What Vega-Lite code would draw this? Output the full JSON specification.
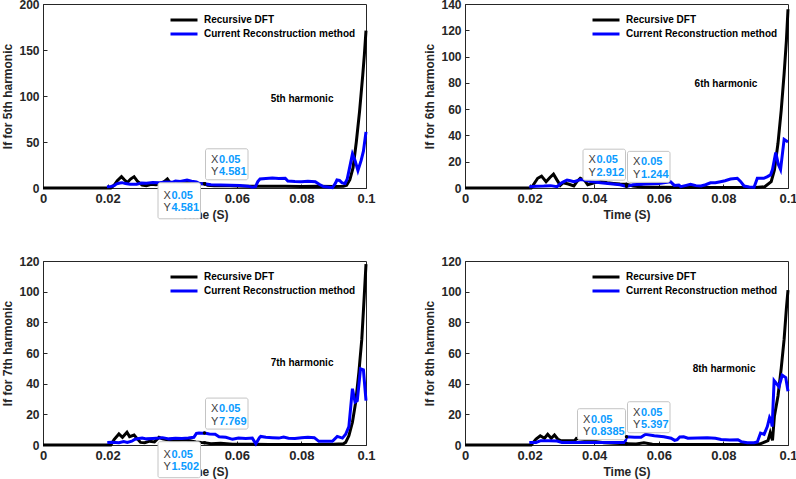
{
  "$schema": "https://vega.github.io/schema/vega-lite/v6.json",
  "padding": {"left": 1, "top": -3, "right": 0, "bottom": 0},
  "background": "#ffffff",
  "datasets": {
    "rdft_h5": [
      {"time": 0, "current": 0}, {"time": 0.021, "current": 0}, {"time": 0.022, "current": 3}, {"time": 0.023, "current": 8},
      {"time": 0.0243, "current": 12.3}, {"time": 0.0252, "current": 9}, {"time": 0.0261, "current": 6}, {"time": 0.0272, "current": 10},
      {"time": 0.0282, "current": 12.3}, {"time": 0.0293, "current": 7}, {"time": 0.0307, "current": 3.3}, {"time": 0.032, "current": 2.5},
      {"time": 0.0335, "current": 4}, {"time": 0.035, "current": 3.5}, {"time": 0.0365, "current": 4.5}, {"time": 0.0375, "current": 7},
      {"time": 0.0385, "current": 9.8}, {"time": 0.0395, "current": 5}, {"time": 0.04, "current": 3}, {"time": 0.041, "current": 4},
      {"time": 0.042, "current": 5}, {"time": 0.0435, "current": 5.5}, {"time": 0.0446, "current": 7}, {"time": 0.0455, "current": 5},
      {"time": 0.047, "current": 4.5}, {"time": 0.0485, "current": 4.7}, {"time": 0.05, "current": 4.581}, {"time": 0.051, "current": 3},
      {"time": 0.053, "current": 2.5}, {"time": 0.056, "current": 2.8}, {"time": 0.06, "current": 2.2}, {"time": 0.065, "current": 2},
      {"time": 0.07, "current": 1.8}, {"time": 0.075, "current": 2}, {"time": 0.08, "current": 1.6}, {"time": 0.085, "current": 1.8},
      {"time": 0.09, "current": 1.5}, {"time": 0.093, "current": 2}, {"time": 0.094, "current": 3}, {"time": 0.095, "current": 9},
      {"time": 0.096, "current": 22}, {"time": 0.097, "current": 50}, {"time": 0.098, "current": 83}, {"time": 0.099, "current": 123},
      {"time": 0.0995, "current": 145}, {"time": 0.1, "current": 171}
    ],
    "crm_h5": [
      {"time": 0.0198, "current": 1.4}, {"time": 0.021, "current": 1.6}, {"time": 0.022, "current": 2.5}, {"time": 0.0228, "current": 4.5},
      {"time": 0.0238, "current": 5.5}, {"time": 0.0245, "current": 5.8}, {"time": 0.0255, "current": 4.8}, {"time": 0.027, "current": 4},
      {"time": 0.029, "current": 4.2}, {"time": 0.0305, "current": 5.5}, {"time": 0.032, "current": 5.2}, {"time": 0.034, "current": 6},
      {"time": 0.036, "current": 5.8}, {"time": 0.038, "current": 6.5}, {"time": 0.04, "current": 6.2}, {"time": 0.041, "current": 7.6},
      {"time": 0.0425, "current": 7}, {"time": 0.0446, "current": 8.7}, {"time": 0.046, "current": 7.5}, {"time": 0.0475, "current": 6.5},
      {"time": 0.0485, "current": 4.8}, {"time": 0.05, "current": 4.581}, {"time": 0.052, "current": 3.5}, {"time": 0.055, "current": 3.3},
      {"time": 0.058, "current": 3}, {"time": 0.061, "current": 2.6}, {"time": 0.0635, "current": 2}, {"time": 0.0648, "current": 0.8},
      {"time": 0.0658, "current": 1.5}, {"time": 0.0665, "current": 7}, {"time": 0.0672, "current": 9.8}, {"time": 0.069, "current": 10.2},
      {"time": 0.071, "current": 10.8}, {"time": 0.073, "current": 10.2}, {"time": 0.075, "current": 10.5}, {"time": 0.0758, "current": 7.5},
      {"time": 0.078, "current": 7}, {"time": 0.08, "current": 6.8}, {"time": 0.082, "current": 7.2}, {"time": 0.0843, "current": 6.8},
      {"time": 0.0855, "current": 4}, {"time": 0.0868, "current": 1.5}, {"time": 0.088, "current": 1.2}, {"time": 0.0896, "current": 0.3},
      {"time": 0.0905, "current": 5}, {"time": 0.091, "current": 8.7}, {"time": 0.0918, "current": 8.2}, {"time": 0.0926, "current": 5.5},
      {"time": 0.0935, "current": 4.8}, {"time": 0.0942, "current": 10}, {"time": 0.0948, "current": 20}, {"time": 0.0958, "current": 37},
      {"time": 0.0966, "current": 30}, {"time": 0.0975, "current": 19}, {"time": 0.0985, "current": 30}, {"time": 0.0992, "current": 40},
      {"time": 0.1, "current": 61}
    ],
    "rdft_h6": [
      {"time": 0, "current": 0}, {"time": 0.0205, "current": 0}, {"time": 0.0225, "current": 7.4}, {"time": 0.0237, "current": 9},
      {"time": 0.0251, "current": 4.8}, {"time": 0.0263, "current": 8}, {"time": 0.0274, "current": 10.5}, {"time": 0.0285, "current": 6},
      {"time": 0.0295, "current": 2}, {"time": 0.0304, "current": 4}, {"time": 0.032, "current": 3}, {"time": 0.0337, "current": 1.5},
      {"time": 0.0347, "current": 5}, {"time": 0.0357, "current": 7.4}, {"time": 0.037, "current": 6}, {"time": 0.038, "current": 2.5},
      {"time": 0.04, "current": 4}, {"time": 0.042, "current": 5}, {"time": 0.044, "current": 4}, {"time": 0.046, "current": 3.5},
      {"time": 0.048, "current": 3}, {"time": 0.05, "current": 2.912}, {"time": 0.052, "current": 1.5}, {"time": 0.055, "current": 0.8},
      {"time": 0.06, "current": 0.5}, {"time": 0.07, "current": 0.3}, {"time": 0.08, "current": 0.3}, {"time": 0.09, "current": 0.3},
      {"time": 0.0928, "current": 1}, {"time": 0.0948, "current": 4.8}, {"time": 0.0958, "current": 13.7}, {"time": 0.0969, "current": 34},
      {"time": 0.0979, "current": 59}, {"time": 0.0988, "current": 87}, {"time": 0.0995, "current": 112}, {"time": 0.1, "current": 136}
    ],
    "crm_h6": [
      {"time": 0.0199, "current": 1}, {"time": 0.022, "current": 1.3}, {"time": 0.0244, "current": 1.5}, {"time": 0.0265, "current": 1.8},
      {"time": 0.0285, "current": 1}, {"time": 0.0297, "current": 3.6}, {"time": 0.0306, "current": 4.8}, {"time": 0.0316, "current": 6},
      {"time": 0.0326, "current": 5.5}, {"time": 0.0337, "current": 4.8}, {"time": 0.0347, "current": 5.5}, {"time": 0.0357, "current": 6.5},
      {"time": 0.0369, "current": 6}, {"time": 0.039, "current": 5}, {"time": 0.042, "current": 4}, {"time": 0.045, "current": 3.2},
      {"time": 0.048, "current": 2.5}, {"time": 0.05, "current": 1.244}, {"time": 0.052, "current": 2.5}, {"time": 0.056, "current": 3},
      {"time": 0.06, "current": 3.5}, {"time": 0.0636, "current": 4.8}, {"time": 0.0648, "current": 2}, {"time": 0.0662, "current": 2.3},
      {"time": 0.0668, "current": 1}, {"time": 0.0685, "current": 2}, {"time": 0.0698, "current": 2.8}, {"time": 0.0715, "current": 1.8},
      {"time": 0.0731, "current": 1.5}, {"time": 0.0745, "current": 2.5}, {"time": 0.076, "current": 4}, {"time": 0.0775, "current": 4},
      {"time": 0.0791, "current": 4.8}, {"time": 0.0805, "current": 5.5}, {"time": 0.0822, "current": 6.8}, {"time": 0.0843, "current": 7.4},
      {"time": 0.0853, "current": 5}, {"time": 0.0864, "current": 1.5}, {"time": 0.088, "current": 0.8}, {"time": 0.0895, "current": 0.6},
      {"time": 0.0905, "current": 7.4}, {"time": 0.0915, "current": 7.4}, {"time": 0.0925, "current": 7.4}, {"time": 0.0935, "current": 8.5},
      {"time": 0.0946, "current": 10}, {"time": 0.0952, "current": 14}, {"time": 0.0962, "current": 27}, {"time": 0.097, "current": 18},
      {"time": 0.0977, "current": 14}, {"time": 0.0988, "current": 37}, {"time": 0.1, "current": 35}
    ],
    "rdft_h7": [
      {"time": 0, "current": 0}, {"time": 0.021, "current": 0}, {"time": 0.022, "current": 3.5}, {"time": 0.0235, "current": 7.2},
      {"time": 0.0246, "current": 5}, {"time": 0.026, "current": 8.3}, {"time": 0.0268, "current": 5.5}, {"time": 0.0282, "current": 6.5},
      {"time": 0.0292, "current": 4}, {"time": 0.0302, "current": 1.7}, {"time": 0.0315, "current": 1.5}, {"time": 0.033, "current": 2.5},
      {"time": 0.0345, "current": 2}, {"time": 0.0359, "current": 5}, {"time": 0.037, "current": 4}, {"time": 0.039, "current": 3.3},
      {"time": 0.0405, "current": 2.5}, {"time": 0.042, "current": 3}, {"time": 0.044, "current": 3.2}, {"time": 0.0455, "current": 2.8},
      {"time": 0.0473, "current": 2}, {"time": 0.049, "current": 1.6}, {"time": 0.05, "current": 1.502}, {"time": 0.052, "current": 0.8},
      {"time": 0.055, "current": 1.2}, {"time": 0.0587, "current": 0.5}, {"time": 0.065, "current": 0.5}, {"time": 0.07, "current": 0.4},
      {"time": 0.08, "current": 0.4}, {"time": 0.09, "current": 0.5}, {"time": 0.093, "current": 0.8}, {"time": 0.0937, "current": 1.7},
      {"time": 0.0947, "current": 6}, {"time": 0.0958, "current": 14.8}, {"time": 0.0968, "current": 27.8}, {"time": 0.0978, "current": 47.5},
      {"time": 0.0987, "current": 69}, {"time": 0.0994, "current": 95}, {"time": 0.1, "current": 118}
    ],
    "crm_h7": [
      {"time": 0.0199, "current": 1.7}, {"time": 0.0215, "current": 1.8}, {"time": 0.0235, "current": 1.5}, {"time": 0.025, "current": 2.2},
      {"time": 0.0261, "current": 1.7}, {"time": 0.0275, "current": 2.5}, {"time": 0.0285, "current": 3.8}, {"time": 0.0297, "current": 4.3},
      {"time": 0.0307, "current": 4.5}, {"time": 0.032, "current": 4}, {"time": 0.034, "current": 4.3}, {"time": 0.036, "current": 4.6},
      {"time": 0.037, "current": 4.8}, {"time": 0.039, "current": 4}, {"time": 0.041, "current": 4.4}, {"time": 0.043, "current": 4.2},
      {"time": 0.045, "current": 4.5}, {"time": 0.0467, "current": 5}, {"time": 0.0475, "current": 7.6}, {"time": 0.0483, "current": 7.8},
      {"time": 0.0493, "current": 7.7}, {"time": 0.05, "current": 7.769}, {"time": 0.0515, "current": 7.2}, {"time": 0.0533, "current": 7},
      {"time": 0.0545, "current": 5.4}, {"time": 0.0566, "current": 5}, {"time": 0.0587, "current": 3.7}, {"time": 0.0605, "current": 4.5},
      {"time": 0.0628, "current": 4.2}, {"time": 0.0648, "current": 4.5}, {"time": 0.0659, "current": 0.8}, {"time": 0.067, "current": 4.8},
      {"time": 0.0674, "current": 5.6}, {"time": 0.069, "current": 5}, {"time": 0.071, "current": 4.8}, {"time": 0.073, "current": 4.5},
      {"time": 0.0745, "current": 5.2}, {"time": 0.076, "current": 4.4}, {"time": 0.078, "current": 4.2}, {"time": 0.08, "current": 4.8},
      {"time": 0.082, "current": 5}, {"time": 0.084, "current": 4.8}, {"time": 0.0854, "current": 2.4}, {"time": 0.0875, "current": 2.4},
      {"time": 0.0896, "current": 2.4}, {"time": 0.0911, "current": 5.6}, {"time": 0.0927, "current": 4.5}, {"time": 0.0937, "current": 7},
      {"time": 0.0947, "current": 12}, {"time": 0.0958, "current": 36.7}, {"time": 0.0966, "current": 28}, {"time": 0.0973, "current": 29},
      {"time": 0.0983, "current": 49.7}, {"time": 0.0992, "current": 49}, {"time": 0.1, "current": 29}
    ],
    "rdft_h8": [
      {"time": 0, "current": 0}, {"time": 0.0205, "current": 0}, {"time": 0.022, "current": 3.9}, {"time": 0.0233, "current": 6},
      {"time": 0.0246, "current": 4.4}, {"time": 0.0256, "current": 7}, {"time": 0.0267, "current": 4.4}, {"time": 0.0277, "current": 6.5},
      {"time": 0.0287, "current": 3.9}, {"time": 0.0297, "current": 2.8}, {"time": 0.032, "current": 2.8}, {"time": 0.034, "current": 2.8},
      {"time": 0.0345, "current": 4.3}, {"time": 0.037, "current": 3.5}, {"time": 0.04, "current": 2.5}, {"time": 0.043, "current": 1.5},
      {"time": 0.046, "current": 1.2}, {"time": 0.048, "current": 1}, {"time": 0.05, "current": 0.8385}, {"time": 0.053, "current": 0.7},
      {"time": 0.0554, "current": 1.5}, {"time": 0.058, "current": 0.5}, {"time": 0.065, "current": 0.3}, {"time": 0.075, "current": 0.3},
      {"time": 0.085, "current": 0.3}, {"time": 0.0912, "current": 0.6}, {"time": 0.0938, "current": 2.8}, {"time": 0.0945, "current": 8},
      {"time": 0.0952, "current": 3}, {"time": 0.0958, "current": 19}, {"time": 0.0969, "current": 32}, {"time": 0.0979, "current": 50},
      {"time": 0.0988, "current": 69}, {"time": 0.0995, "current": 89}, {"time": 0.1, "current": 101}
    ],
    "crm_h8": [
      {"time": 0.0199, "current": 1.7}, {"time": 0.022, "current": 1.7}, {"time": 0.0235, "current": 2.8}, {"time": 0.026, "current": 2.8},
      {"time": 0.0285, "current": 2.6}, {"time": 0.03, "current": 1.7}, {"time": 0.033, "current": 1.7}, {"time": 0.036, "current": 1.7},
      {"time": 0.04, "current": 1.7}, {"time": 0.045, "current": 1.7}, {"time": 0.0495, "current": 1.7}, {"time": 0.05, "current": 5.397},
      {"time": 0.0525, "current": 5}, {"time": 0.0545, "current": 5}, {"time": 0.0559, "current": 7}, {"time": 0.0586, "current": 6},
      {"time": 0.0616, "current": 5.4}, {"time": 0.0638, "current": 4.4}, {"time": 0.0649, "current": 3}, {"time": 0.0657, "current": 3.5},
      {"time": 0.0665, "current": 5.2}, {"time": 0.0677, "current": 5.4}, {"time": 0.069, "current": 4.4}, {"time": 0.072, "current": 4.6},
      {"time": 0.075, "current": 4.8}, {"time": 0.0775, "current": 4.4}, {"time": 0.0793, "current": 3.6}, {"time": 0.082, "current": 3.2},
      {"time": 0.0845, "current": 3.4}, {"time": 0.0855, "current": 2.2}, {"time": 0.0874, "current": 1.5}, {"time": 0.0895, "current": 1.5},
      {"time": 0.0905, "current": 2}, {"time": 0.0915, "current": 7.8}, {"time": 0.0926, "current": 7}, {"time": 0.0936, "current": 12},
      {"time": 0.0943, "current": 18}, {"time": 0.0948, "current": 16}, {"time": 0.0951, "current": 12}, {"time": 0.0957, "current": 42},
      {"time": 0.0972, "current": 38}, {"time": 0.0982, "current": 45.5}, {"time": 0.0993, "current": 44}, {"time": 0.1, "current": 35}
    ],
    "notes": [
      {"harmonic": 5, "time": 0.0802, "current": 96.7, "label": "5th harmonic"},
      {"harmonic": 6, "time": 0.0808, "current": 79, "label": "6th harmonic"},
      {"harmonic": 7, "time": 0.0802, "current": 53.8, "label": "7th harmonic"},
      {"harmonic": 8, "time": 0.0802, "current": 49.8, "label": "8th harmonic"}
    ],
    "tips": [
      {"harmonic": 5, "time": 0.05, "current": 4.581, "orient": "ur"},
      {"harmonic": 5, "time": 0.05, "current": 4.581, "orient": "bl"},
      {"harmonic": 6, "time": 0.05, "current": 2.912, "orient": "ul"},
      {"harmonic": 6, "time": 0.05, "current": 1.244, "orient": "ur"},
      {"harmonic": 7, "time": 0.05, "current": 7.769, "orient": "ur"},
      {"harmonic": 7, "time": 0.05, "current": 1.502, "orient": "bl"},
      {"harmonic": 8, "time": 0.05, "current": 0.8385, "orient": "ul"},
      {"harmonic": 8, "time": 0.05, "current": 5.397, "orient": "ur"}
    ]
  },
  "columns": 2,
  "bounds": "flush",
  "spacing": {"row": 73, "column": 99},
  "resolve": {"scale": {"color": "independent"}, "legend": {"color": "independent"}},
  "concat": [
    {
      "width": 323, "height": 184,
      "layer": [
        {"data": {"name": "rdft_h5"}, "mark": {"type": "line", "strokeWidth": 3},
         "encoding": {
           "x": {"field": "time", "type": "quantitative", "scale": {"domain": [0, 0.1]}, "axis": {"title": "Time (S)", "values": [0, 0.02, 0.04, 0.06, 0.08, 0.1], "tickCount": 20, "format": ".2~f"}},
           "y": {"field": "current", "type": "quantitative", "scale": {"domain": [0, 200]}, "axis": {"title": "If for 5th harmonic", "values": [0, 50, 100, 150, 200], "tickCount": 20}},
           "color": {"datum": "Recursive DFT", "type": "nominal", "scale": {"domain": ["Recursive DFT", "Current Reconstruction method"], "range": ["#000000", "#0000ff"]},
                     "legend": {"title": null, "orient": "none", "legendX": 134.5, "legendY": 9.5, "symbolType": "M-2.7,0H2.7", "symbolStrokeWidth": 3, "symbolSize": 100, "labelFont": "Liberation Sans", "labelFontSize": 10, "labelFontWeight": "bold", "labelColor": "#000000", "rowPadding": 1, "labelOffset": 13.5, "labelLimit": 300}}
         }},
        {"data": {"name": "crm_h5"}, "mark": {"type": "line", "strokeWidth": 3},
         "encoding": {"x": {"field": "time", "type": "quantitative"}, "y": {"field": "current", "type": "quantitative"}, "color": {"datum": "Current Reconstruction method", "type": "nominal"}}},
        {"data": {"name": "notes"}, "transform": [{"filter": "datum.harmonic == 5"}],
         "mark": {"type": "text", "font": "Liberation Sans", "fontSize": 10, "fontWeight": "bold", "color": "#000000", "align": "center", "baseline": "middle"},
         "encoding": {"x": {"field": "time", "type": "quantitative"}, "y": {"field": "current", "type": "quantitative"}, "text": {"field": "label"}}},
        {"data": {"name": "tips"}, "transform": [{"filter": "datum.harmonic == 5"}],
         "encoding": {"x": {"field": "time", "type": "quantitative"}, "y": {"field": "current", "type": "quantitative"}},
         "layer": [
           {"mark": {"type": "rect", "fill": "#ffffff", "stroke": "#c4c4c4", "strokeWidth": 1, "cornerRadius": 2,
                     "xOffset": {"expr": "datum.orient == 'ur' ? 1 : (datum.orient == 'ul' ? -1 : -4) - (15 + 5.5 * length(format(datum.current, '.4~r')))"},
                     "x2Offset": {"expr": "datum.orient == 'ur' ? 1 + (15 + 5.5 * length(format(datum.current, '.4~r'))) : (datum.orient == 'ul' ? -1 : -4)"},
                     "yOffset": {"expr": "datum.orient == 'bl' ? -1 : -35"},
                     "y2Offset": {"expr": "datum.orient == 'bl' ? 35 : -4"}},
            "encoding": {"x2": {"field": "time"}, "y2": {"field": "current"}}},
           {"mark": {"type": "point", "filled": true, "color": "#000000", "opacity": 1, "size": 12}},
           {"mark": {"type": "text", "text": ["X", "Y"], "lineHeight": 12.5, "align": "left", "baseline": "middle", "font": "Liberation Sans", "fontSize": 11, "color": "#404040",
                     "dx": {"expr": "datum.orient == 'ur' ? 6.5 : (datum.orient == 'ul' ? 4.5 : 1.5) - (15 + 5.5 * length(format(datum.current, '.4~r')))"},
                     "dy": {"expr": "datum.orient == 'bl' ? 12 : -24"}}},
           {"mark": {"type": "text", "align": "left", "baseline": "middle", "font": "Liberation Sans", "fontSize": 11, "fontWeight": "bold", "color": "#0a9bff",
                     "dx": {"expr": "datum.orient == 'ur' ? 14.5 : (datum.orient == 'ul' ? 12.5 : 9.5) - (15 + 5.5 * length(format(datum.current, '.4~r')))"},
                     "dy": {"expr": "datum.orient == 'bl' ? 12 : -24"}},
            "encoding": {"text": {"field": "time", "type": "quantitative", "format": ".2~f"}}},
           {"mark": {"type": "text", "align": "left", "baseline": "middle", "font": "Liberation Sans", "fontSize": 11, "fontWeight": "bold", "color": "#0a9bff",
                     "dx": {"expr": "datum.orient == 'ur' ? 14.5 : (datum.orient == 'ul' ? 12.5 : 9.5) - (15 + 5.5 * length(format(datum.current, '.4~r')))"},
                     "dy": {"expr": "datum.orient == 'bl' ? 24.5 : -11.5"}},
            "encoding": {"text": {"field": "current", "type": "quantitative", "format": ".4~r"}}}
         ]}
      ]
    },
    {
      "width": 323, "height": 184,
      "layer": [
        {"data": {"name": "rdft_h6"}, "mark": {"type": "line", "strokeWidth": 3},
         "encoding": {
           "x": {"field": "time", "type": "quantitative", "scale": {"domain": [0, 0.1]}, "axis": {"title": "Time (S)", "values": [0, 0.02, 0.04, 0.06, 0.08, 0.1], "tickCount": 20, "format": ".2~f"}},
           "y": {"field": "current", "type": "quantitative", "scale": {"domain": [0, 140]}, "axis": {"title": "If for 6th harmonic", "values": [0, 20, 40, 60, 80, 100, 120, 140], "tickCount": 20}},
           "color": {"datum": "Recursive DFT", "type": "nominal", "scale": {"domain": ["Recursive DFT", "Current Reconstruction method"], "range": ["#000000", "#0000ff"]},
                     "legend": {"title": null, "orient": "none", "legendX": 134.5, "legendY": 9.5, "symbolType": "M-2.7,0H2.7", "symbolStrokeWidth": 3, "symbolSize": 100, "labelFont": "Liberation Sans", "labelFontSize": 10, "labelFontWeight": "bold", "labelColor": "#000000", "rowPadding": 1, "labelOffset": 13.5, "labelLimit": 300}}
         }},
        {"data": {"name": "crm_h6"}, "mark": {"type": "line", "strokeWidth": 3},
         "encoding": {"x": {"field": "time", "type": "quantitative"}, "y": {"field": "current", "type": "quantitative"}, "color": {"datum": "Current Reconstruction method", "type": "nominal"}}},
        {"data": {"name": "notes"}, "transform": [{"filter": "datum.harmonic == 6"}],
         "mark": {"type": "text", "font": "Liberation Sans", "fontSize": 10, "fontWeight": "bold", "color": "#000000", "align": "center", "baseline": "middle"},
         "encoding": {"x": {"field": "time", "type": "quantitative"}, "y": {"field": "current", "type": "quantitative"}, "text": {"field": "label"}}},
        {"data": {"name": "tips"}, "transform": [{"filter": "datum.harmonic == 6"}],
         "encoding": {"x": {"field": "time", "type": "quantitative"}, "y": {"field": "current", "type": "quantitative"}},
         "layer": [
           {"mark": {"type": "rect", "fill": "#ffffff", "stroke": "#c4c4c4", "strokeWidth": 1, "cornerRadius": 2,
                     "xOffset": {"expr": "datum.orient == 'ur' ? 1 : (datum.orient == 'ul' ? -1 : -4) - (15 + 5.5 * length(format(datum.current, '.4~r')))"},
                     "x2Offset": {"expr": "datum.orient == 'ur' ? 1 + (15 + 5.5 * length(format(datum.current, '.4~r'))) : (datum.orient == 'ul' ? -1 : -4)"},
                     "yOffset": {"expr": "datum.orient == 'bl' ? -1 : -35"},
                     "y2Offset": {"expr": "datum.orient == 'bl' ? 35 : -4"}},
            "encoding": {"x2": {"field": "time"}, "y2": {"field": "current"}}},
           {"mark": {"type": "point", "filled": true, "color": "#000000", "opacity": 1, "size": 12}},
           {"mark": {"type": "text", "text": ["X", "Y"], "lineHeight": 12.5, "align": "left", "baseline": "middle", "font": "Liberation Sans", "fontSize": 11, "color": "#404040",
                     "dx": {"expr": "datum.orient == 'ur' ? 6.5 : (datum.orient == 'ul' ? 4.5 : 1.5) - (15 + 5.5 * length(format(datum.current, '.4~r')))"},
                     "dy": {"expr": "datum.orient == 'bl' ? 12 : -24"}}},
           {"mark": {"type": "text", "align": "left", "baseline": "middle", "font": "Liberation Sans", "fontSize": 11, "fontWeight": "bold", "color": "#0a9bff",
                     "dx": {"expr": "datum.orient == 'ur' ? 14.5 : (datum.orient == 'ul' ? 12.5 : 9.5) - (15 + 5.5 * length(format(datum.current, '.4~r')))"},
                     "dy": {"expr": "datum.orient == 'bl' ? 12 : -24"}},
            "encoding": {"text": {"field": "time", "type": "quantitative", "format": ".2~f"}}},
           {"mark": {"type": "text", "align": "left", "baseline": "middle", "font": "Liberation Sans", "fontSize": 11, "fontWeight": "bold", "color": "#0a9bff",
                     "dx": {"expr": "datum.orient == 'ur' ? 14.5 : (datum.orient == 'ul' ? 12.5 : 9.5) - (15 + 5.5 * length(format(datum.current, '.4~r')))"},
                     "dy": {"expr": "datum.orient == 'bl' ? 24.5 : -11.5"}},
            "encoding": {"text": {"field": "current", "type": "quantitative", "format": ".4~r"}}}
         ]}
      ]
    },
    {
      "width": 323, "height": 184,
      "layer": [
        {"data": {"name": "rdft_h7"}, "mark": {"type": "line", "strokeWidth": 3},
         "encoding": {
           "x": {"field": "time", "type": "quantitative", "scale": {"domain": [0, 0.1]}, "axis": {"title": "Time (S)", "values": [0, 0.02, 0.04, 0.06, 0.08, 0.1], "tickCount": 20, "format": ".2~f"}},
           "y": {"field": "current", "type": "quantitative", "scale": {"domain": [0, 120]}, "axis": {"title": "If for 7th harmonic", "values": [0, 20, 40, 60, 80, 100, 120], "tickCount": 20}},
           "color": {"datum": "Recursive DFT", "type": "nominal", "scale": {"domain": ["Recursive DFT", "Current Reconstruction method"], "range": ["#000000", "#0000ff"]},
                     "legend": {"title": null, "orient": "none", "legendX": 134.5, "legendY": 9.5, "symbolType": "M-2.7,0H2.7", "symbolStrokeWidth": 3, "symbolSize": 100, "labelFont": "Liberation Sans", "labelFontSize": 10, "labelFontWeight": "bold", "labelColor": "#000000", "rowPadding": 1, "labelOffset": 13.5, "labelLimit": 300}}
         }},
        {"data": {"name": "crm_h7"}, "mark": {"type": "line", "strokeWidth": 3},
         "encoding": {"x": {"field": "time", "type": "quantitative"}, "y": {"field": "current", "type": "quantitative"}, "color": {"datum": "Current Reconstruction method", "type": "nominal"}}},
        {"data": {"name": "notes"}, "transform": [{"filter": "datum.harmonic == 7"}],
         "mark": {"type": "text", "font": "Liberation Sans", "fontSize": 10, "fontWeight": "bold", "color": "#000000", "align": "center", "baseline": "middle"},
         "encoding": {"x": {"field": "time", "type": "quantitative"}, "y": {"field": "current", "type": "quantitative"}, "text": {"field": "label"}}},
        {"data": {"name": "tips"}, "transform": [{"filter": "datum.harmonic == 7"}],
         "encoding": {"x": {"field": "time", "type": "quantitative"}, "y": {"field": "current", "type": "quantitative"}},
         "layer": [
           {"mark": {"type": "rect", "fill": "#ffffff", "stroke": "#c4c4c4", "strokeWidth": 1, "cornerRadius": 2,
                     "xOffset": {"expr": "datum.orient == 'ur' ? 1 : (datum.orient == 'ul' ? -1 : -4) - (15 + 5.5 * length(format(datum.current, '.4~r')))"},
                     "x2Offset": {"expr": "datum.orient == 'ur' ? 1 + (15 + 5.5 * length(format(datum.current, '.4~r'))) : (datum.orient == 'ul' ? -1 : -4)"},
                     "yOffset": {"expr": "datum.orient == 'bl' ? -1 : -35"},
                     "y2Offset": {"expr": "datum.orient == 'bl' ? 35 : -4"}},
            "encoding": {"x2": {"field": "time"}, "y2": {"field": "current"}}},
           {"mark": {"type": "point", "filled": true, "color": "#000000", "opacity": 1, "size": 12}},
           {"mark": {"type": "text", "text": ["X", "Y"], "lineHeight": 12.5, "align": "left", "baseline": "middle", "font": "Liberation Sans", "fontSize": 11, "color": "#404040",
                     "dx": {"expr": "datum.orient == 'ur' ? 6.5 : (datum.orient == 'ul' ? 4.5 : 1.5) - (15 + 5.5 * length(format(datum.current, '.4~r')))"},
                     "dy": {"expr": "datum.orient == 'bl' ? 12 : -24"}}},
           {"mark": {"type": "text", "align": "left", "baseline": "middle", "font": "Liberation Sans", "fontSize": 11, "fontWeight": "bold", "color": "#0a9bff",
                     "dx": {"expr": "datum.orient == 'ur' ? 14.5 : (datum.orient == 'ul' ? 12.5 : 9.5) - (15 + 5.5 * length(format(datum.current, '.4~r')))"},
                     "dy": {"expr": "datum.orient == 'bl' ? 12 : -24"}},
            "encoding": {"text": {"field": "time", "type": "quantitative", "format": ".2~f"}}},
           {"mark": {"type": "text", "align": "left", "baseline": "middle", "font": "Liberation Sans", "fontSize": 11, "fontWeight": "bold", "color": "#0a9bff",
                     "dx": {"expr": "datum.orient == 'ur' ? 14.5 : (datum.orient == 'ul' ? 12.5 : 9.5) - (15 + 5.5 * length(format(datum.current, '.4~r')))"},
                     "dy": {"expr": "datum.orient == 'bl' ? 24.5 : -11.5"}},
            "encoding": {"text": {"field": "current", "type": "quantitative", "format": ".4~r"}}}
         ]}
      ]
    },
    {
      "width": 323, "height": 184,
      "layer": [
        {"data": {"name": "rdft_h8"}, "mark": {"type": "line", "strokeWidth": 3},
         "encoding": {
           "x": {"field": "time", "type": "quantitative", "scale": {"domain": [0, 0.1]}, "axis": {"title": "Time (S)", "values": [0, 0.02, 0.04, 0.06, 0.08, 0.1], "tickCount": 20, "format": ".2~f"}},
           "y": {"field": "current", "type": "quantitative", "scale": {"domain": [0, 120]}, "axis": {"title": "If for 8th harmonic", "values": [0, 20, 40, 60, 80, 100, 120], "tickCount": 20}},
           "color": {"datum": "Recursive DFT", "type": "nominal", "scale": {"domain": ["Recursive DFT", "Current Reconstruction method"], "range": ["#000000", "#0000ff"]},
                     "legend": {"title": null, "orient": "none", "legendX": 134.5, "legendY": 9.5, "symbolType": "M-2.7,0H2.7", "symbolStrokeWidth": 3, "symbolSize": 100, "labelFont": "Liberation Sans", "labelFontSize": 10, "labelFontWeight": "bold", "labelColor": "#000000", "rowPadding": 1, "labelOffset": 13.5, "labelLimit": 300}}
         }},
        {"data": {"name": "crm_h8"}, "mark": {"type": "line", "strokeWidth": 3},
         "encoding": {"x": {"field": "time", "type": "quantitative"}, "y": {"field": "current", "type": "quantitative"}, "color": {"datum": "Current Reconstruction method", "type": "nominal"}}},
        {"data": {"name": "notes"}, "transform": [{"filter": "datum.harmonic == 8"}],
         "mark": {"type": "text", "font": "Liberation Sans", "fontSize": 10, "fontWeight": "bold", "color": "#000000", "align": "center", "baseline": "middle"},
         "encoding": {"x": {"field": "time", "type": "quantitative"}, "y": {"field": "current", "type": "quantitative"}, "text": {"field": "label"}}},
        {"data": {"name": "tips"}, "transform": [{"filter": "datum.harmonic == 8"}],
         "encoding": {"x": {"field": "time", "type": "quantitative"}, "y": {"field": "current", "type": "quantitative"}},
         "layer": [
           {"mark": {"type": "rect", "fill": "#ffffff", "stroke": "#c4c4c4", "strokeWidth": 1, "cornerRadius": 2,
                     "xOffset": {"expr": "datum.orient == 'ur' ? 1 : (datum.orient == 'ul' ? -1 : -4) - (15 + 5.5 * length(format(datum.current, '.4~r')))"},
                     "x2Offset": {"expr": "datum.orient == 'ur' ? 1 + (15 + 5.5 * length(format(datum.current, '.4~r'))) : (datum.orient == 'ul' ? -1 : -4)"},
                     "yOffset": {"expr": "datum.orient == 'bl' ? -1 : -35"},
                     "y2Offset": {"expr": "datum.orient == 'bl' ? 35 : -4"}},
            "encoding": {"x2": {"field": "time"}, "y2": {"field": "current"}}},
           {"mark": {"type": "point", "filled": true, "color": "#000000", "opacity": 1, "size": 12}},
           {"mark": {"type": "text", "text": ["X", "Y"], "lineHeight": 12.5, "align": "left", "baseline": "middle", "font": "Liberation Sans", "fontSize": 11, "color": "#404040",
                     "dx": {"expr": "datum.orient == 'ur' ? 6.5 : (datum.orient == 'ul' ? 4.5 : 1.5) - (15 + 5.5 * length(format(datum.current, '.4~r')))"},
                     "dy": {"expr": "datum.orient == 'bl' ? 12 : -24"}}},
           {"mark": {"type": "text", "align": "left", "baseline": "middle", "font": "Liberation Sans", "fontSize": 11, "fontWeight": "bold", "color": "#0a9bff",
                     "dx": {"expr": "datum.orient == 'ur' ? 14.5 : (datum.orient == 'ul' ? 12.5 : 9.5) - (15 + 5.5 * length(format(datum.current, '.4~r')))"},
                     "dy": {"expr": "datum.orient == 'bl' ? 12 : -24"}},
            "encoding": {"text": {"field": "time", "type": "quantitative", "format": ".2~f"}}},
           {"mark": {"type": "text", "align": "left", "baseline": "middle", "font": "Liberation Sans", "fontSize": 11, "fontWeight": "bold", "color": "#0a9bff",
                     "dx": {"expr": "datum.orient == 'ur' ? 14.5 : (datum.orient == 'ul' ? 12.5 : 9.5) - (15 + 5.5 * length(format(datum.current, '.4~r')))"},
                     "dy": {"expr": "datum.orient == 'bl' ? 24.5 : -11.5"}},
            "encoding": {"text": {"field": "current", "type": "quantitative", "format": ".4~r"}}}
         ]}
      ]
    }
  ],
  "config": {
    "font": "Liberation Sans",
    "view": {"stroke": "#262626", "strokeWidth": 1},
    "axis": {
      "grid": false,
      "domainColor": "#262626",
      "tickColor": "#262626",
      "tickSize": -4,
      "labelFont": "Liberation Sans",
      "labelFontSize": 12,
      "labelFontWeight": "bold",
      "labelColor": "#262626",
      "labelPadding": 8,
      "labelFlush": false,
      "labelOverlap": false,
      "titleFont": "Liberation Sans",
      "titleFontSize": 12,
      "titleFontWeight": "bold",
      "titleColor": "#262626",
      "titlePadding": 4
    },
    "axisX": {"labelFontSize": 13}
  }
}
